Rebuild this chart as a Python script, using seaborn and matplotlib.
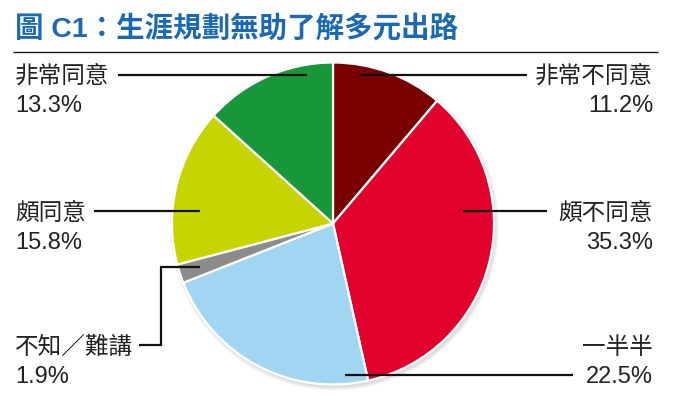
import numpy as np
import matplotlib
matplotlib.use("Agg")
import matplotlib.pyplot as plt
from matplotlib.patches import Circle
import seaborn as sns

# Survey answers, clockwise from 12 o'clock
categories = ["非常不同意", "頗不同意", "一半半", "不知／難講", "頗同意", "非常同意"]
values = [11.2, 35.3, 22.5, 1.9, 15.8, 13.3]
slice_colors = ["#7a0000", "#e2002d", "#a0d6f2", "#8c8c8c", "#c6d500", "#18963a"]
title = "圖 C1：生涯規劃無助了解多元出路"

sns.set_theme(style="white")
plt.rcParams["font.family"] = ["Noto Sans CJK TC", "DejaVu Sans"]
latin_first = ["Liberation Sans", "Noto Sans CJK TC", "DejaVu Sans"]
palette = sns.color_palette(slice_colors)

W, H = 673, 409
fig = plt.figure(figsize=(W / 100, H / 100), dpi=100)
ax = fig.add_axes([0, 0, 1, 1])


def Y(y):
    # page coordinates measured from the top edge
    return H - y


cx, cy, R = 333, 223.5, 161

# soft drop shadow under the pie
for i in range(7):
    ax.add_patch(Circle((cx + 1.5, Y(cy) - 2.5), R + 0.6 * i, facecolor="black",
                        edgecolor="none", alpha=0.018, zorder=0))

wedges, _ = ax.pie(values, colors=palette, startangle=90, counterclock=False,
                   center=(cx, Y(cy)), radius=R,
                   wedgeprops=dict(edgecolor="white", linewidth=1.6, zorder=2))
ax.set_xlim(0, W)
ax.set_ylim(0, H)
ax.set_aspect("equal")
ax.axis("off")

# title and rule
ax.text(15, Y(30), title, fontsize=20.5, fontweight="bold", color="#1b69b3",
        ha="left", va="center", family=latin_first)
ax.plot([13, 658], [Y(52), Y(52)], color="#1a1a1a", lw=1.0, solid_capstyle="butt")

txt = "#222222"
fs = 17
lw = 1.6


def label(x, y, name, val, ha):
    ax.text(x, Y(y), name, fontsize=fs, color=txt, ha=ha, va="center")
    ax.text(x, Y(y + 30), f"{val}%", fontsize=fs, color=txt, ha=ha, va="center",
            family=latin_first)


def leader(xs, ys):
    ax.plot(xs, [Y(v) for v in ys], color="#111111", lw=lw, zorder=5,
            solid_capstyle="butt", solid_joinstyle="miter")


vals = dict(zip(categories, values))

label(15, 76, "非常同意", vals["非常同意"], "left")
leader([118, 307], [75, 75])

label(653, 76, "非常不同意", vals["非常不同意"], "right")
leader([360, 527], [75, 75])

label(15, 213, "頗同意", vals["頗同意"], "left")
leader([94, 200], [211, 211])

label(653, 213, "頗不同意", vals["頗不同意"], "right")
leader([463, 547], [211, 211])

# elbow leader to the thin grey wedge, aimed at its mid-angle
gw = wedges[categories.index("不知／難講")]
mid = np.deg2rad((gw.theta1 + gw.theta2) / 2)
tx = 200
ty = cy - (tx - cx) * np.tan(mid)
label(15, 347, "不知／難講", vals["不知／難講"], "left")
leader([139, 161, 161, tx], [345, 345, ty, ty])

label(653, 347, "一半半", vals["一半半"], "right")
leader([345, 573], [375, 375])

fig.savefig("out.png", dpi=100, facecolor="white")
